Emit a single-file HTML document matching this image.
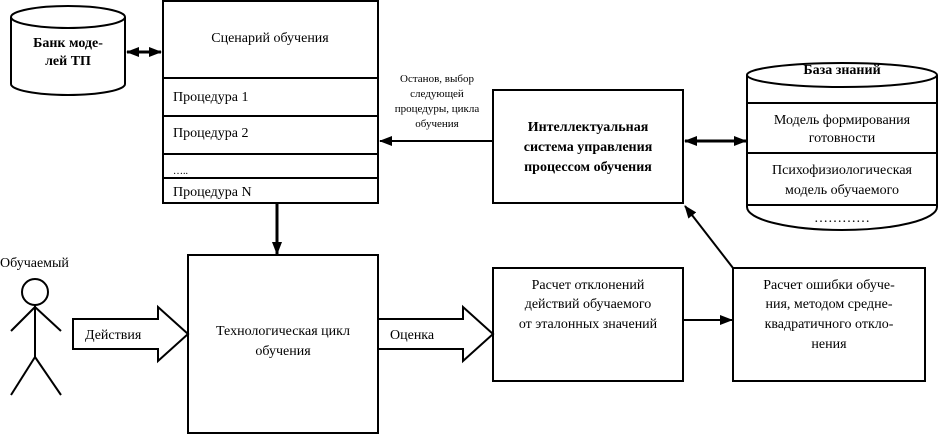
<!DOCTYPE html>
<html><head><meta charset="utf-8"><style>
body{margin:0;background:#fff}
svg text{font-family:"Liberation Serif",serif;fill:#000}
</style></head><body>
<svg width="938" height="434" viewBox="0 0 938 434" xmlns="http://www.w3.org/2000/svg">
<defs>
<marker id="a" markerWidth="13" markerHeight="10" refX="12" refY="5" orient="auto" markerUnits="userSpaceOnUse"><path d="M0,0 L13,5 L0,10 z" fill="#000"/></marker>
<marker id="s" markerWidth="13" markerHeight="10" refX="1" refY="5" orient="auto" markerUnits="userSpaceOnUse"><path d="M13,0 L0,5 L13,10 z" fill="#000"/></marker>
</defs>
<g stroke="#000" stroke-width="2" fill="none">
<path d="M11,17 A57,11 0 0 1 125,17 L125,84 A57,11 0 0 1 11,84 Z" fill="#fff"/>
<path d="M11,17 A57,11 0 0 0 125,17"/>
<rect x="163" y="1" width="215" height="202"/>
<line x1="163" y1="78" x2="378" y2="78"/>
<line x1="163" y1="116" x2="378" y2="116"/>
<line x1="163" y1="154" x2="378" y2="154"/>
<line x1="163" y1="178" x2="378" y2="178"/>
<line x1="127" y1="52" x2="161" y2="52" stroke-width="3" marker-start="url(#s)" marker-end="url(#a)"/>
<rect x="493" y="90" width="190" height="113"/>
<line x1="493" y1="141" x2="380" y2="141" marker-end="url(#a)"/>
<line x1="685" y1="141" x2="746" y2="141" stroke-width="3" marker-start="url(#s)" marker-end="url(#a)"/>
<path d="M747,75 A95,12 0 0 1 937,75 L937,207 A95,23 0 0 1 747,207 Z"/>
<path d="M747,75 A95,12 0 0 0 937,75"/>
<line x1="747" y1="103" x2="937" y2="103"/>
<line x1="747" y1="153" x2="937" y2="153"/>
<line x1="747" y1="205" x2="937" y2="205"/>
<line x1="277" y1="203" x2="277" y2="254" stroke-width="3" marker-end="url(#a)"/>
<rect x="188" y="255" width="190" height="178"/>
<circle cx="35" cy="292" r="13"/>
<line x1="35" y1="305" x2="35" y2="357"/>
<line x1="11" y1="331" x2="35" y2="307"/>
<line x1="61" y1="331" x2="35" y2="307"/>
<line x1="35" y1="357" x2="11" y2="395"/>
<line x1="35" y1="357" x2="61" y2="395"/>
<path d="M73,319 L158,319 L158,307 L188,334 L158,361 L158,349 L73,349 Z" fill="#fff"/>
<path d="M378,319 L463,319 L463,307 L493,334 L463,361 L463,349 L378,349 Z" fill="#fff"/>
<rect x="493" y="268" width="190" height="113"/>
<line x1="683" y1="320" x2="732" y2="320" marker-end="url(#a)"/>
<rect x="733" y="268" width="192" height="113"/>
<line x1="733" y1="268" x2="685" y2="206" marker-end="url(#a)"/>
</g>
<g font-size="14" text-anchor="middle">
<text x="68" y="47" font-weight="bold">Банк моде-</text>
<text x="68" y="65" font-weight="bold">лей ТП</text>
<text x="270" y="42">Сценарий обучения</text>
<text x="173" y="101" text-anchor="start">Процедура 1</text>
<text x="173" y="137" text-anchor="start">Процедура 2</text>
<text x="173" y="174" text-anchor="start" font-size="10">…..</text>
<text x="173" y="196" text-anchor="start">Процедура N</text>
<g font-size="11"><text x="437" y="82">Останов, выбор</text><text x="437" y="97">следующей</text><text x="437" y="112">процедуры, цикла</text><text x="437" y="127">обучения</text></g>
<g font-weight="bold"><text x="588" y="131">Интеллектуальная</text><text x="588" y="151">система управления</text><text x="588" y="171">процессом обучения</text></g>
<text x="842" y="74" font-weight="bold">База знаний</text>
<text x="842" y="124">Модель формирования</text>
<text x="842" y="142">готовности</text>
<text x="842" y="174">Психофизиологическая</text>
<text x="842" y="194">модель обучаемого</text>
<text x="842" y="222">…………</text>
<text x="0" y="267" text-anchor="start">Обучаемый</text>
<text x="85" y="339" text-anchor="start">Действия</text>
<text x="390" y="339" text-anchor="start">Оценка</text>
<text x="283" y="335">Технологическая цикл</text>
<text x="283" y="355">обучения</text>
<text x="588" y="289">Расчет отклонений</text>
<text x="588" y="308">действий обучаемого</text>
<text x="588" y="328">от эталонных значений</text>
<text x="829" y="289">Расчет ошибки обуче-</text>
<text x="829" y="308">ния, методом средне-</text>
<text x="829" y="328">квадратичного откло-</text>
<text x="829" y="348">нения</text>
</g>
</svg>
</body></html>
